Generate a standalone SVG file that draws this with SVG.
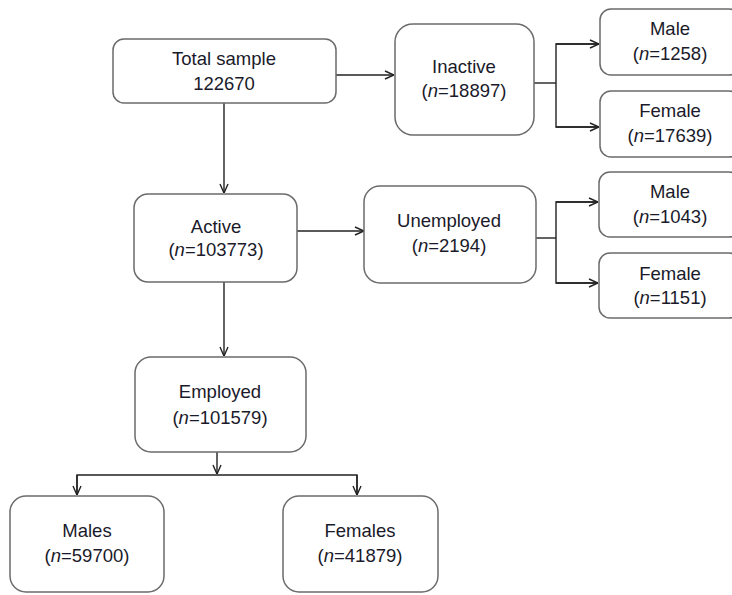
<svg xmlns="http://www.w3.org/2000/svg" width="732" height="595" viewBox="0 0 732 595">
<style>
.box{fill:#fff;stroke:#6b6b6b;stroke-width:1.5}
.t{font-family:"Liberation Sans",Arial,sans-serif;font-size:18.5px;fill:#1a1a2a;text-anchor:middle}
.c{fill:none;stroke:#222;stroke-width:1.4}
</style>
<defs>
<marker id="ah" viewBox="0 0 10 10" refX="10" refY="5" markerWidth="10" markerHeight="10" markerUnits="userSpaceOnUse" orient="auto">
<path d="M1,1 L10,5 L1,9" fill="none" stroke="#222" stroke-width="1.4"/>
</marker>
</defs>
<rect width="732" height="595" fill="#fff"/>
<g id="connectors">
<line class="c" x1="336" y1="75" x2="394" y2="75" marker-end="url(#ah)"/>
<line class="c" x1="224" y1="103" x2="224" y2="193" marker-end="url(#ah)"/>
<polyline class="c" points="534,83 556,83"/>
<polyline class="c" points="599,44 556,44 556,127 599,127"/>
<line class="c" x1="556" y1="44" x2="599" y2="44" marker-end="url(#ah)"/>
<line class="c" x1="556" y1="127" x2="599" y2="127" marker-end="url(#ah)"/>
<line class="c" x1="297" y1="231" x2="364" y2="231" marker-end="url(#ah)"/>
<polyline class="c" points="536,238 556,238"/>
<polyline class="c" points="598,202 556,202 556,283 598,283"/>
<line class="c" x1="556" y1="202" x2="598" y2="202" marker-end="url(#ah)"/>
<line class="c" x1="556" y1="283" x2="598" y2="283" marker-end="url(#ah)"/>
<line class="c" x1="224" y1="282" x2="224" y2="356" marker-end="url(#ah)"/>
<line class="c" x1="217" y1="452" x2="217" y2="474" marker-end="url(#ah)"/>
<polyline class="c" points="77,495 77,475 357,475 357,495"/>
<line class="c" x1="77" y1="475" x2="77" y2="495" marker-end="url(#ah)"/>
<line class="c" x1="357" y1="475" x2="357" y2="495" marker-end="url(#ah)"/>
</g>
<g id="total">
<rect class="box" x="113" y="39" width="223" height="64" rx="11"/>
<text class="t" x="224" y="65">Total sample</text>
<text class="t" x="224" y="90">122670</text>
</g>
<g id="inactive">
<rect class="box" x="395" y="24" width="139" height="111" rx="18"/>
<text class="t" x="464" y="73">Inactive</text>
<text class="t" x="464" y="97">(<tspan font-style="italic">n</tspan>=18897)</text>
</g>
<g id="inactive-male">
<rect class="box" x="600" y="9" width="140" height="66" rx="11"/>
<text class="t" x="670" y="35">Male</text>
<text class="t" x="670" y="60">(<tspan font-style="italic">n</tspan>=1258)</text>
</g>
<g id="inactive-female">
<rect class="box" x="600" y="91" width="140" height="66" rx="11"/>
<text class="t" x="670" y="117">Female</text>
<text class="t" x="670" y="142">(<tspan font-style="italic">n</tspan>=17639)</text>
</g>
<g id="active">
<rect class="box" x="134" y="194" width="163" height="88" rx="14"/>
<text class="t" x="216" y="233">Active</text>
<text class="t" x="216" y="256">(<tspan font-style="italic">n</tspan>=103773)</text>
</g>
<g id="unemployed">
<rect class="box" x="364" y="186" width="172" height="97" rx="16"/>
<text class="t" x="449" y="227">Unemployed</text>
<text class="t" x="449" y="252">(<tspan font-style="italic">n</tspan>=2194)</text>
</g>
<g id="unemployed-male">
<rect class="box" x="599" y="172" width="141" height="65" rx="11"/>
<text class="t" x="670" y="198">Male</text>
<text class="t" x="670" y="223">(<tspan font-style="italic">n</tspan>=1043)</text>
</g>
<g id="unemployed-female">
<rect class="box" x="599" y="253" width="141" height="65" rx="11"/>
<text class="t" x="670" y="280">Female</text>
<text class="t" x="670" y="304">(<tspan font-style="italic">n</tspan>=1151)</text>
</g>
<g id="employed">
<rect class="box" x="135" y="357" width="171" height="95" rx="16"/>
<text class="t" x="220" y="398">Employed</text>
<text class="t" x="220" y="424">(<tspan font-style="italic">n</tspan>=101579)</text>
</g>
<g id="males">
<rect class="box" x="10" y="496" width="154" height="96" rx="16"/>
<text class="t" x="87" y="537">Males</text>
<text class="t" x="87" y="562">(<tspan font-style="italic">n</tspan>=59700)</text>
</g>
<g id="females">
<rect class="box" x="283" y="496" width="155" height="96" rx="16"/>
<text class="t" x="360" y="537">Females</text>
<text class="t" x="360" y="562">(<tspan font-style="italic">n</tspan>=41879)</text>
</g>
</svg>
